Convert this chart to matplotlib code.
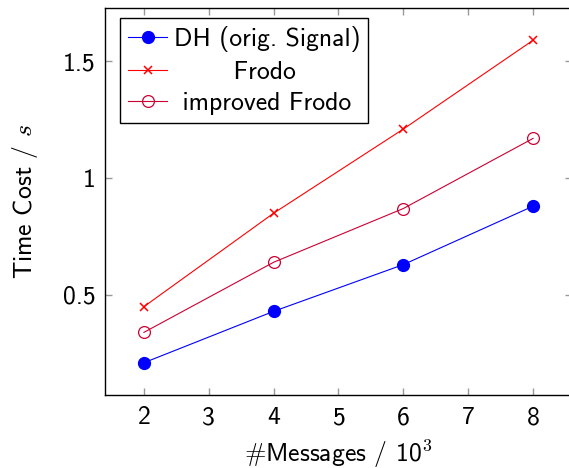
import matplotlib
matplotlib.use("Agg")
import matplotlib.pyplot as plt

# data
messages = [2, 4, 6, 8]
dh_signal = [0.21, 0.43, 0.63, 0.88]
frodo = [0.45, 0.85, 1.21, 1.59]
improved_frodo = [0.34, 0.64, 0.87, 1.17]
x_ticks = [2, 3, 4, 5, 6, 7, 8]
y_ticks = [0.5, 1.0, 1.5]
y_tick_labels = ["0.5", "1", "1.5"]
labels = ['DH (orig. Signal)', 'Frodo', 'improved Frodo']

plt.rcParams['font.family'] = ['cmss10', 'DejaVu Sans']
plt.rcParams['mathtext.fontset'] = 'cm'
plt.rcParams['font.size'] = 18.5
plt.rcParams['axes.unicode_minus'] = False

fig = plt.figure(figsize=(5.69, 4.68), dpi=100)
ax = fig.add_axes([105/569, 1 - 395/468, (572 - 105)/569, (395 - 8)/468])

ax.plot(messages, dh_signal, color='blue', lw=0.8, marker='o', ms=8.5)
ax.plot(messages, frodo, color='red', lw=0.8, marker='x', ms=5.5, mew=1.1)
ax.plot(messages, improved_frodo, color='#cc0033', lw=0.8, marker='o', ms=8.5,
        mfc='none', mew=0.9)

ax.set_xlim(1.4, 8.6)
ax.set_ylim(0.072, 1.728)
ax.set_xticks(x_ticks)
ax.set_yticks(y_ticks)
ax.set_yticklabels(y_tick_labels)
ax.tick_params(direction='in', length=5, color='#999999', width=1,
               top=True, right=True)
ax.tick_params(axis='x', pad=8)
ax.tick_params(axis='y', pad=7)
for s in ax.spines.values():
    s.set_linewidth(1)

ax.set_xlabel(r'$\#$Messages / 10$^3$', labelpad=6)
ax.set_ylabel(r'Time Cost / $s$', labelpad=16)

# centre the legend texts like pgfplots does: pad shorter labels with spaces
renderer = fig.canvas.get_renderer()
def text_w(s):
    t = fig.text(0, 0, s)
    w = t.get_window_extent(renderer).width
    t.remove()
    return w
widest = max(text_w(l) for l in labels)
space_w = (text_w('a a') - text_w('aa'))
padded = []
for l in labels:
    n = int(round((widest - text_w(l)) / 2 / space_w))
    padded.append(' ' * n + l)

leg = ax.legend(ax.lines, padded, loc='upper left',
                bbox_to_anchor=(0.032, 0.973), fancybox=False,
                edgecolor='black', framealpha=1, handlelength=1.55,
                borderpad=0.3, labelspacing=0.33, handletextpad=0.25,
                borderaxespad=0)
leg.get_frame().set_linewidth(1)

fig.savefig('out.png', dpi=100)
